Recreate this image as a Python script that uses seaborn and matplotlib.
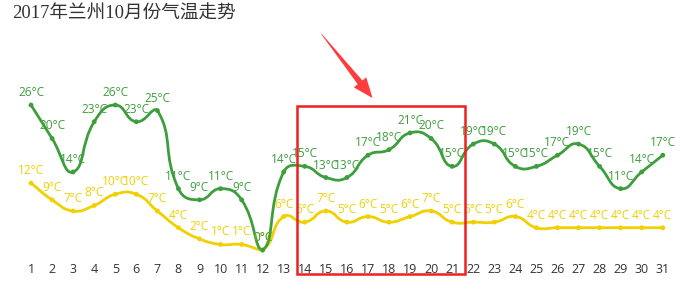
import numpy as np
import pandas as pd
import matplotlib
matplotlib.use("Agg")
import matplotlib.pyplot as plt
import seaborn as sns
from matplotlib.path import Path
from matplotlib.patches import PathPatch, Polygon, Rectangle

days = list(range(1, 32))
high = [26, 20, 14, 23, 26, 23, 25, 11, 9, 11, 9, 0, 14, 15, 13, 13, 17, 18, 21, 20, 15,
        19, 19, 15, 15, 17, 19, 15, 11, 14, 17]
low = [12, 9, 7, 8, 10, 10, 7, 4, 2, 1, 1, 0, 6, 5, 7, 5, 6, 5, 6, 7, 5,
       5, 5, 6, 4, 4, 4, 4, 4, 4, 4]
title = "2017年兰州10月份气温走势"
GREEN = "#3d9e3d"
YELLOW = "#f0d000"

sns.set_theme(style="white")
plt.rcParams["font.family"] = ["Open Sans", "Noto Sans CJK SC", "DejaVu Sans"]

W, H, DPI = 680, 281, 100
fig = plt.figure(figsize=(W / DPI, H / DPI), dpi=DPI)
ax_left, ax_right = 20.5, 673.3
ax_top, ax_bot = 60.4, 258.4
ax = fig.add_axes([ax_left / W, (H - ax_bot) / H, (ax_right - ax_left) / W, (ax_bot - ax_top) / H])
ax.set_xlim(0.5, 31.5)
ax.set_ylim(-1.5, 34)
sx = (ax_right - ax_left) / 31.0
sy = (ax_bot - ax_top) / 35.5


def smooth_path(xs, ys, smooth=0.5):
    pts = np.column_stack([np.asarray(xs, float) * sx, np.asarray(ys, float) * sy])
    n = len(pts)
    mn, mx = pts.min(axis=0), pts.max(axis=0)
    cps = []
    for i in range(n):
        p = pts[i]
        prev = pts[i - 1] if i > 0 else p
        nxt = pts[i + 1] if i < n - 1 else p
        v = (nxt - prev) * smooth
        d0 = np.hypot(*(p - prev))
        d1 = np.hypot(*(p - nxt))
        s = d0 + d1
        if s > 0:
            d0, d1 = d0 / s, d1 / s
        c0 = np.clip(p - v * d0, mn, mx)
        c1 = np.clip(p + v * d1, mn, mx)
        cps.append((c0, c1))
    verts = [pts[0]]
    codes = [Path.MOVETO]
    for i in range(n - 1):
        verts += [cps[i][1], cps[i + 1][0], pts[i + 1]]
        codes += [Path.CURVE4] * 3
    verts = np.array(verts) / np.array([sx, sy])
    return Path(verts, codes)


df = pd.DataFrame({"day": days, "high": high, "low": low})

for col, color in [("low", YELLOW), ("high", GREEN)]:
    ax.add_patch(PathPatch(smooth_path(df["day"], df[col]), facecolor="none",
                           edgecolor=color, lw=2, zorder=3))
    sns.scatterplot(data=df, x="day", y=col, color=color, s=12, edgecolor="none",
                    zorder=4, ax=ax, legend=False)
    for d, v in zip(df["day"], df[col]):
        ax.annotate(f"{v}°C", (d, v), xytext=(0, 9), textcoords="offset points",
                    ha="center", va="center", fontsize=8.6, color=color, zorder=5)

ax.set_xticks(days)
ax.set_xticklabels([str(d) for d in days])
ax.set_yticks([])
ax.set_xlabel("")
ax.set_ylabel("")
ax.tick_params(axis="x", length=0, pad=3, labelsize=9, labelcolor="#333333")
for sp in ax.spines.values():
    sp.set_visible(False)

fig.text(12.5 / W, 1 - 14 / H, title, ha="left", va="center", fontsize=13.4,
         color="#333333", family=["Liberation Serif", "Noto Sans CJK SC"])

# highlight box
def fx(px):
    return px / W

def fy(py):
    return 1 - py / H

fig.patches.append(Rectangle((fx(297), fy(274)), fx(464.5) - fx(297), fy(105.5) - fy(274),
                             transform=fig.transFigure, fill=False, edgecolor="#ee2020",
                             lw=1.8, zorder=10))

# arrow
tail = np.array([321.5, 34.0])
tip = np.array([372.5, 98.0])
d = tip - tail
L = np.hypot(*d)
u = d / L
nrm = np.array([-u[1], u[0]])
head_len, head_w, shaft_w = 20.0, 8.0, 3.0
base = tip - u * head_len
pts = [tail + nrm * 0.3, base + nrm * shaft_w, base + nrm * head_w, tip,
       base - nrm * head_w, base - nrm * shaft_w, tail - nrm * 0.3]
fig.patches.append(Polygon([(fx(p[0]), fy(p[1])) for p in pts], closed=True,
                           transform=fig.transFigure, facecolor="#ff3c3c",
                           edgecolor="none", zorder=10))

fig.savefig("out.png", dpi=DPI)
